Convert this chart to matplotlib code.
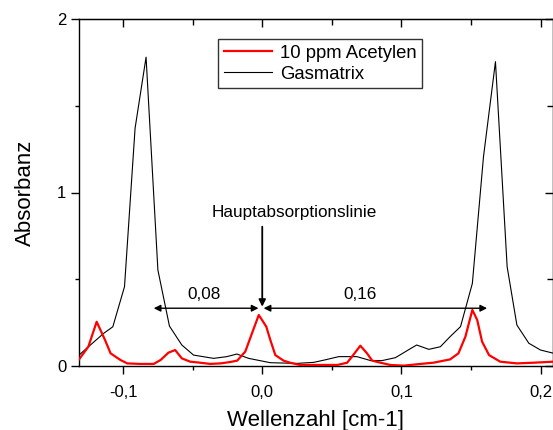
import matplotlib
matplotlib.use("Agg")
import matplotlib.pyplot as plt
from matplotlib.ticker import FixedLocator

plt.rcParams['font.family'] = ['Liberation Sans', 'DejaVu Sans']

# Gasmatrix (black)
gas_x = [-0.1317, -0.114, -0.1074, -0.099, -0.0914, -0.0835, -0.075, -0.0667, -0.0578,
         -0.0494, -0.035, -0.0254, -0.0182, -0.0098, 0.0058, 0.025, 0.037, 0.045, 0.055,
         0.068, 0.078, 0.086, 0.0957, 0.1065, 0.111, 0.1197, 0.128, 0.135, 0.1425, 0.151,
         0.159, 0.1676, 0.176, 0.183, 0.1916, 0.200, 0.2096]
gas_y = [0.063, 0.188, 0.226, 0.457, 1.37, 1.78, 0.553, 0.23, 0.121,
         0.063, 0.044, 0.054, 0.069, 0.044, 0.019, 0.015, 0.021, 0.035, 0.054,
         0.054, 0.031, 0.031, 0.048, 0.10, 0.121, 0.096, 0.111, 0.169, 0.227, 0.476,
         1.206, 1.754, 0.572, 0.236, 0.131, 0.092, 0.073]

# 10 ppm Acetylen (red)
ace_x = [-0.1317, -0.125, -0.119, -0.113, -0.109, -0.102, -0.097, -0.088, -0.078,
         -0.073, -0.0674, -0.0626, -0.0578, -0.0518, -0.0446, -0.0374, -0.030, -0.023,
         -0.018, -0.0122, -0.0074, -0.0025, 0.0029, 0.0058, 0.0094, 0.0153, 0.020,
         0.027, 0.037, 0.054, 0.061, 0.0645, 0.0705, 0.0753, 0.079, 0.085, 0.092,
         0.1017, 0.1137, 0.123, 0.135, 0.141, 0.146, 0.151, 0.1545, 0.158, 0.163,
         0.171, 0.183, 0.195, 0.2096]
ace_y = [0.038, 0.111, 0.255, 0.15, 0.073, 0.035, 0.015, 0.012, 0.012,
         0.035, 0.077, 0.092, 0.044, 0.025, 0.019, 0.012, 0.015, 0.023,
         0.031, 0.083, 0.188, 0.294, 0.227, 0.15, 0.063, 0.031, 0.019,
         0.006, 0.006, 0.006, 0.019, 0.054, 0.117, 0.073, 0.031, 0.019, 0.006,
         0.002, 0.012, 0.019, 0.038, 0.073, 0.169, 0.323, 0.265, 0.14, 0.063,
         0.025, 0.015, 0.019, 0.025]

x_ticks = [-0.1, 0.0, 0.1, 0.2]
x_ticklabels = ['-0,1', '0,0', '0,1', '0,2']
x_minor = [-0.05, 0.05, 0.15]
y_ticks = [0, 1, 2]
y_ticklabels = ['0', '1', '2']
y_minor = [0.5, 1.5]

fig = plt.figure(figsize=(5.53, 4.30), dpi=100)
ax = fig.add_axes([79/553, 1-366/430, (552.5-79)/553, (366-19)/430])

ax.plot(ace_x, ace_y, color='#ff0000', lw=1.6, label='10 ppm Acetylen', zorder=3)
ax.plot(gas_x, gas_y, color='black', lw=0.8, label='Gasmatrix', zorder=2)

ax.set_xlim(-0.1317, 0.2086)
ax.set_ylim(0, 2)

ax.xaxis.set_major_locator(FixedLocator(x_ticks))
ax.xaxis.set_minor_locator(FixedLocator(x_minor))
ax.yaxis.set_major_locator(FixedLocator(y_ticks))
ax.yaxis.set_minor_locator(FixedLocator(y_minor))
ax.set_xticklabels(x_ticklabels)
ax.set_yticklabels(y_ticklabels)

ax.tick_params(which='both', direction='out', top=False, right=False, labelsize=12, width=1, colors='black')
ax.tick_params(which='major', length=6, pad=3)
ax.tick_params(which='minor', length=3)
ax.tick_params(axis='x', pad=8)

# mirrored inward ticks on top/right
axt = ax.secondary_xaxis('top')
axt.xaxis.set_major_locator(FixedLocator(x_ticks))
axt.xaxis.set_minor_locator(FixedLocator(x_minor))
axt.tick_params(which='both', direction='in', labeltop=False, width=1)
axt.tick_params(which='major', length=6)
axt.tick_params(which='minor', length=4)
axr = ax.secondary_yaxis('right')
axr.yaxis.set_major_locator(FixedLocator(y_ticks))
axr.yaxis.set_minor_locator(FixedLocator(y_minor))
axr.tick_params(which='both', direction='in', labelright=False, width=1)
axr.tick_params(which='major', length=6)
axr.tick_params(which='minor', length=4)

for s in ax.spines.values():
    s.set_linewidth(1)

ax.set_xlabel('Wellenzahl [cm-1]', fontsize=16, labelpad=7)
ax.set_ylabel('Absorbanz', fontsize=16, labelpad=15.5)

# annotations
ax.annotate('', xy=(-0.0027, 0.333), xytext=(-0.078, 0.333),
            arrowprops=dict(arrowstyle='<|-|>', color='black', lw=1, mutation_scale=10, shrinkA=0, shrinkB=0))
ax.annotate('', xy=(0.1616, 0.333), xytext=(0.001, 0.333),
            arrowprops=dict(arrowstyle='<|-|>', color='black', lw=1, mutation_scale=10, shrinkA=0, shrinkB=0))
ax.annotate('', xy=(0.0, 0.342), xytext=(0.0, 0.803),
            arrowprops=dict(arrowstyle='-|>', color='black', lw=1.3, mutation_scale=10, shrinkA=0, shrinkB=0))
ax.text(0.0227, 0.882, 'Hauptabsorptionslinie', fontsize=12.3, ha='center', va='center')
ax.text(-0.042, 0.41, '0,08', fontsize=12.3, ha='center', va='center')
ax.text(0.070, 0.41, '0,16', fontsize=12.3, ha='center', va='center')

leg = ax.legend(loc='upper left', bbox_to_anchor=((218-79)/473.5, (366-39)/347),
                borderaxespad=0, fontsize=13.3, frameon=True, fancybox=False,
                handlelength=2.6, handletextpad=0.45, borderpad=0.3, labelspacing=0.22)
leg.get_frame().set_edgecolor('black')
leg.get_frame().set_linewidth(1)

fig.savefig('out.png', dpi=100)
